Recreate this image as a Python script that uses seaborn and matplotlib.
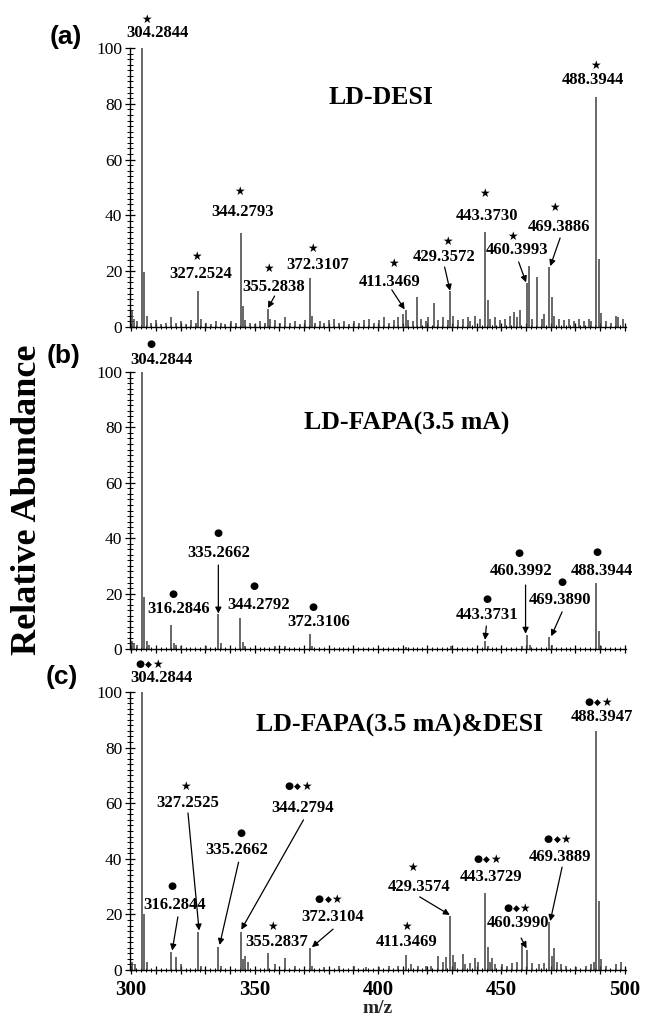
import matplotlib
matplotlib.use("Agg")
import matplotlib.pyplot as plt
import seaborn as sns
import pandas as pd
from matplotlib.ticker import MultipleLocator, FuncFormatter

sns.set_theme(style="ticks")
plt.rcParams['font.family'] = ['Liberation Serif', 'DejaVu Sans']

# ---------------- data ----------------
# (a) LD-DESI
a_mz = [300.3, 301.3, 302.2, 304.2844, 305.29, 306.3, 308.2, 310.2, 312.2, 314.2, 316.3, 318.2,
        320.3, 322.2, 324.3, 326.2, 327.2524, 328.3, 330.2, 332.3, 334.2, 336.3, 338.2, 340.3,
        342.3, 344.2793, 345.3, 346.3, 348.3, 350.2, 352.3, 354.3, 355.2838, 356.3, 358.3, 360.3,
        362.3, 364.3, 366.3, 368.3, 370.3, 372.3107, 373.3, 374.3, 376.3, 378.3, 380.3, 382.3,
        384.3, 386.3, 388.3, 390.3, 392.3, 394.3, 396.3, 398.3, 400.3, 402.3, 404.3, 406.3,
        408.3, 410.3, 411.3469, 412.3, 414.3, 415.7, 417.3, 419.3, 420.3, 422.6, 424.3, 426.3,
        428.3, 429.3572, 430.4, 432.3, 434.3, 436.3, 437.4, 439.3, 441.3, 443.3730, 444.4, 445.4,
        447.3, 449.3, 451.3, 453.3, 455.3, 456.4, 457.4, 460.3993, 461.2, 462.4, 464.5, 466.3,
        467.4, 469.3886, 470.4, 471.4, 473.3, 475.4, 477.3, 479.3, 481.4, 483.4, 485.4, 486.4,
        488.3944, 489.4, 490.4, 492.3, 494.3, 496.3, 497.3, 499.3]
a_int = [6, 3, 2, 100, 19.7, 4, 1.5, 2.5, 1, 1.5, 3.5, 1.5,
         2, 1, 2.5, 1.5, 13, 3, 1.5, 1, 2, 1.5, 1, 2,
         1.5, 33.7, 7.5, 2.5, 1.5, 1, 2, 1.5, 6.5, 3, 2.5, 1.5,
         3.5, 1.5, 2, 1, 2.5, 17.5, 4, 1.5, 2, 1.5, 2.5, 3,
         1.5, 2, 1, 2, 1.5, 2.5, 3, 1.5, 2.5, 3.5, 1.5, 2.5,
         3.5, 4.5, 6, 2.5, 2, 10.8, 3, 2, 3.5, 8.6, 2.5, 3.5,
         2.5, 12.8, 4, 2.5, 3, 3.5, 2, 4, 3, 34, 9.5, 3,
         3.5, 2.5, 3, 4, 5.5, 3.5, 6, 15.6, 22, 3, 18, 3,
         4.5, 21.5, 10.8, 4, 3, 2.5, 3, 2, 3, 2, 3, 2,
         82.5, 24.5, 5, 2, 1.5, 4, 3.5, 3]

# (b) LD-FAPA(3.5 mA)
b_mz = [300.4, 301.3, 302.3, 304.2844, 305.29, 306.3, 307.3, 316.2846, 317.3, 318.3, 320.3,
        330.3, 335.2662, 336.3, 344.2792, 345.3, 346.3, 358.3, 362.3, 372.3106, 373.3,
        411.3, 429.4, 443.3731, 444.4, 458.4, 460.3992, 461.4, 469.3890, 470.4,
        488.3944, 489.4, 490.4]
b_int = [3, 2, 1.5, 100, 18.8, 3, 1.5, 8.7, 2, 1.5, 1,
         1, 12.5, 2, 11.2, 2.5, 1, 1, 1, 5.5, 1.2,
         0.8, 1, 3, 1.2, 1, 5.2, 1.5, 4.2, 1.5,
         24, 6.5, 1.2]

# (c) LD-FAPA(3.5 mA)&DESI
c_mz = [300.5, 301.5, 304.2844, 305.29, 306.3, 316.2844, 318.3, 320.3, 327.2525, 328.3,
        335.2662, 336.3, 344.2794, 345.3, 346.3, 347.3, 355.2837, 358.3, 362.3, 366.3,
        372.3104, 373.3, 378.3, 384.3, 390.3, 395.3, 400.3, 404.3, 408.3, 411.3469, 413.3,
        416.3, 419.3, 421.3, 424.2, 426.3, 427.5, 429.3574, 430.4, 431.4, 434.3, 435.4,
        437.3, 439.4, 440.4, 443.3729, 444.4, 445.4, 446.4, 447.4, 450.3, 452.3, 454.3,
        456.3, 458.4, 460.3990, 462.3, 465.3, 467.3, 469.3889, 470.4, 471.4, 472.4, 474.3,
        476.3, 480.3, 484.3, 486.3, 487.4, 488.3947, 489.4, 490.4, 492.3, 496.3, 498.3]
c_int = [3, 2, 100, 20, 3, 6.5, 4.7, 2, 13.7, 1.5,
         8.4, 1.5, 13.7, 4, 5, 3, 6, 2, 4.4, 1.5,
         7.9, 1.5, 1, 1.5, 1.5, 1, 1, 1.5, 1.5, 5.4, 2,
         1.5, 1.5, 1.5, 5, 3, 4.5, 19.4, 5.4, 3, 5.8, 2,
         2.5, 4.4, 3, 27.7, 8.3, 3, 4.4, 2, 2, 1.5, 2.5,
         3, 9.7, 7.2, 2.5, 2, 2.5, 17.3, 5, 8, 3, 2,
         1.5, 1, 1.5, 2, 3, 86, 25, 4, 1.5, 2, 3]

panel_titles = ["LD-DESI", "LD-FAPA(3.5 mA)", "LD-FAPA(3.5 mA)&DESI"]
panel_letters = ["(a)", "(b)", "(c)"]
y_ticks = [0, 20, 40, 60, 80, 100]
x_ticks = [300, 350, 400, 450, 500]

# annotation labels (text, tag)
a_labels = [("304.2844", "★"), ("327.2524", "★"), ("344.2793", "★"), ("355.2838", "★"),
            ("372.3107", "★"), ("411.3469", "★"), ("429.3572", "★"), ("443.3730", "★"),
            ("460.3993", "★"), ("469.3886", "★"), ("488.3944", "★")]
b_labels = [("304.2844", "●"), ("316.2846", "●"), ("335.2662", "●"), ("344.2792", "●"),
            ("372.3106", "●"), ("443.3731", "●"), ("460.3992", "●"), ("469.3890", "●"),
            ("488.3944", "●")]
c_labels = [("304.2844", "●◆★"), ("316.2844", "●"), ("327.2525", "★"), ("335.2662", "●"),
            ("344.2794", "●◆★"), ("355.2837", "★"), ("372.3104", "●◆★"), ("411.3469", "★"),
            ("429.3574", "★"), ("443.3729", "●◆★"), ("460.3990", "●◆★"), ("469.3889", "●◆★"),
            ("488.3947", "●◆★")]

# ---------------- layout (text position, tag position, optional arrow) ----------------
a_layout = [((310.5, 105.4), (306.0, 110.4), None),
            ((328.2, 19.0), (326.6, 25.4), None),
            ((345.2, 41.2), (344.0, 48.7), None),
            ((357.7, 14.3), (355.6, 21.1), (358.1, 11.1, 355.4, 6.8)),
            ((375.4, 22.2), (373.4, 28.3), None),
            ((404.8, 16.1), (406.4, 22.9), (405.6, 13.3, 410.8, 6.3)),
            ((426.6, 25.1), (428.2, 30.8), (427.0, 21.5, 429.2, 13.0)),
            ((444.3, 39.8), (443.1, 48.0), None),
            ((456.5, 27.6), (454.4, 32.3), (457.0, 23.3, 460.0, 16.0)),
            ((473.4, 35.8), (471.4, 43.0), (473.8, 31.9, 469.8, 21.8)),
            ((487.1, 88.5), (488.3, 93.9), None)]
b_layout = [((312.1, 104.3), (308.1, 110.1), None),
            ((319.4, 14.4), (316.9, 19.9), None),
            ((335.5, 34.7), (335.1, 41.9), (335.3, 30.3, 335.3, 12.8)),
            ((351.6, 15.9), (349.6, 22.7), None),
            ((375.8, 9.7), (373.8, 15.2), None),
            ((444.0, 12.3), (444.0, 18.1), (443.9, 8.3, 443.4, 3.3)),
            ((458.1, 28.2), (457.3, 34.7), (459.8, 23.1, 459.8, 5.5)),
            ((473.8, 17.7), (474.6, 24.2), (474.6, 13.4, 470.2, 4.6)),
            ((490.7, 28.2), (488.7, 35.0), None)]
c_layout = [((312.1, 105.0), (306.9, 110.0), None),
            ((317.7, 23.4), (316.5, 30.2), (318.9, 19.1, 316.6, 7.0)),
            ((323.0, 60.0), (321.8, 66.2), (323.0, 56.5, 327.5, 14.2)),
            ((342.7, 43.2), (344.4, 49.3), (343.5, 38.8, 335.8, 9.0)),
            ((369.4, 58.3), (367.3, 66.2), (369.8, 54.0, 344.6, 14.5)),
            ((358.9, 10.1), (357.3, 15.5), None),
            ((381.8, 19.1), (379.8, 25.5), (381.8, 14.7, 373.2, 8.2)),
            ((411.7, 10.1), (411.7, 15.8), None),
            ((416.5, 29.9), (414.1, 37.0), (416.9, 26.3, 429.1, 19.8)),
            ((446.0, 33.5), (444.0, 39.9), None),
            ((456.9, 16.9), (456.0, 22.3), (458.0, 11.5, 460.2, 7.8)),
            ((473.8, 40.6), (472.6, 47.1), (474.6, 37.0, 469.8, 17.6)),
            ((490.7, 91.0), (489.1, 96.4), None)]
title_pos = [(401.2, 82.1), (411.7, 81.6), (408.9, 88.1)]

# ---------------- figure ----------------
fig = plt.figure(figsize=(6.46, 10.18), dpi=100)
L, W = 130 / 646, 496 / 646
rects = [(L, 1 - 327 / 1018, W, 279 / 1018),
         (L, 1 - 649 / 1018, W, 277 / 1018),
         (L, 1 - 970 / 1018, W, 278 / 1018)]
letter_pos = [(66 / 646, 1 - 37 / 1018), (64 / 646, 1 - 356 / 1018), (62 / 646, 1 - 677 / 1018)]

spectra = [(a_mz, a_int), (b_mz, b_int), (c_mz, c_int)]
labels = [a_labels, b_labels, c_labels]
layouts = [a_layout, b_layout, c_layout]

tag_size = {'●': 7.5, '◆': 6.5, '★': 8.5}
peak_color = '#3f3f3f'


def draw_tag(ax, tag, x, y):
    n = len(tag)
    step = 6.3
    for i, ch in enumerate(tag):
        ax.annotate(ch, (x, y), xytext=((i - (n - 1) / 2) * step, 0),
                    textcoords='offset points', ha='center', va='center',
                    fontsize=tag_size[ch], family=['DejaVu Sans'], color='black',
                    annotation_clip=False)


for k in range(3):
    ax = fig.add_axes(rects[k])
    ax.set_facecolor('white')
    df = pd.DataFrame({'mz': spectra[k][0], 'intensity': spectra[k][1]})
    ax.vlines(df['mz'], 0, df['intensity'], color=peak_color, lw=1.1, clip_on=False)
    ax.set_xlim(299.5, 500.5)
    ax.set_ylim(0, 100)
    sns.despine(ax=ax)
    for s in ('left', 'bottom'):
        ax.spines[s].set_color('black')
        ax.spines[s].set_linewidth(1.0)

    ax.set_yticks(y_ticks)
    ax.yaxis.set_minor_locator(MultipleLocator(2))
    ax.xaxis.set_major_locator(MultipleLocator(10))
    ax.xaxis.set_minor_locator(MultipleLocator(2))
    ax.tick_params(axis='y', which='major', direction='inout', length=7, width=0.9,
                   labelsize=12.5, colors='black', pad=2)
    ax.tick_params(axis='y', which='minor', direction='inout', length=4, width=0.7, colors='black')
    ax.tick_params(axis='x', which='major', direction='inout', length=6, width=0.9, colors='black')
    ax.tick_params(axis='x', which='minor', direction='inout', length=3.5, width=0.7, colors='black')
    if k == 2:
        ax.xaxis.set_major_formatter(FuncFormatter(
            lambda v, p: f"{int(round(v))}" if int(round(v)) in x_ticks else ""))
        ax.tick_params(axis='x', which='major', labelsize=15, pad=4)
        for t in ax.get_xticklabels():
            t.set_fontweight('bold')
        ax.set_xlabel("m/z", fontsize=14, fontweight='bold', labelpad=0)
    else:
        ax.tick_params(axis='x', labelbottom=False)

    ax.text(title_pos[k][0], title_pos[k][1], panel_titles[k], ha='center', va='center',
            fontsize=18.5, fontweight='bold', color='black')

    for (txt, tag), (tp, mp, arr) in zip(labels[k], layouts[k]):
        ax.text(tp[0], tp[1], txt, ha='center', va='center', fontsize=12,
                fontweight='bold', color='black', clip_on=False)
        draw_tag(ax, tag, mp[0], mp[1])
        if arr is not None:
            ax.annotate('', xy=(arr[2], arr[3]), xytext=(arr[0], arr[1]),
                        arrowprops=dict(arrowstyle='-|>', color='black', lw=0.9,
                                        mutation_scale=9, shrinkA=0, shrinkB=0),
                        annotation_clip=False)

    fig.text(letter_pos[k][0], letter_pos[k][1], panel_letters[k], ha='center', va='center',
             fontsize=19, fontweight='bold', family=['Liberation Sans'], color='black')

fig.text(28 / 646, 1 - 500 / 1018, "Relative Abundance", rotation=90, ha='center', va='center',
         fontsize=26, fontweight='bold', color='black')

fig.savefig("out.png", dpi=100, facecolor='white')
